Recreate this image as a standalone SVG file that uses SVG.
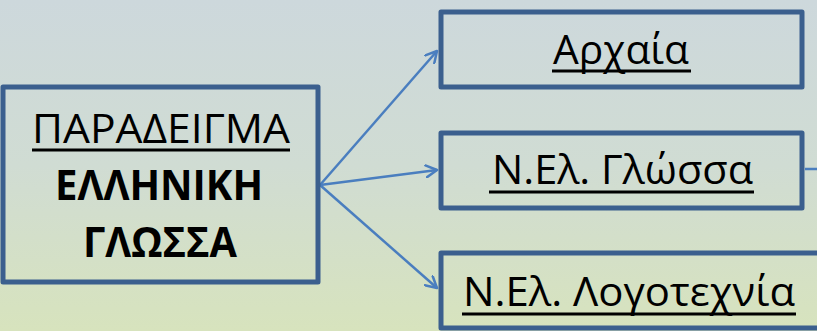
<svg xmlns="http://www.w3.org/2000/svg" width="817" height="331" viewBox="0 0 817 331">
<defs>
<linearGradient id="bg" x1="0" y1="0" x2="0" y2="1">
<stop offset="0" stop-color="#cdd8dc"/>
<stop offset="0.5" stop-color="#d0dcd3"/>
<stop offset="1" stop-color="#d7e3bd"/>
</linearGradient>
<marker id="arr" viewBox="0 0 14 14" refX="12" refY="7" markerWidth="14" markerHeight="14" markerUnits="userSpaceOnUse" orient="auto">
<path d="M1,1 L12,7 L1,13" fill="none" stroke="#4a7ebf" stroke-width="2.5" stroke-linecap="round" stroke-linejoin="round"/>
</marker>
<style>
.box{fill:none;stroke:#3b5f8e;stroke-width:5;stroke-linejoin:round}
.t{font-family:"Open Sans","DejaVu Sans",sans-serif;fill:#000;text-anchor:start}
.ul{stroke:#000;stroke-width:3}
.c{stroke:#4a7ebf;stroke-width:2.5;fill:none}
</style>
</defs>
<rect x="0" y="0" width="817" height="331" fill="url(#bg)"/>
<g id="connectors">
<line class="c" x1="320" y1="185" x2="437" y2="51" marker-end="url(#arr)"/>
<line class="c" x1="320" y1="185" x2="437" y2="170" marker-end="url(#arr)"/>
<line class="c" x1="320" y1="185" x2="437" y2="288" marker-end="url(#arr)"/>
<line class="c" x1="805" y1="169" x2="817" y2="169"/>
</g>
<g id="node-main">
<rect class="box" x="3" y="87" width="315" height="195"/>
<text class="t" x="32" y="143" font-size="40" textLength="258" lengthAdjust="spacingAndGlyphs">ΠΑΡΑΔΕΙΓΜΑ</text>
<line class="ul" x1="32" y1="150" x2="290" y2="150"/>
<text class="t" x="55" y="200" font-size="42" font-weight="bold" textLength="208" lengthAdjust="spacingAndGlyphs">ΕΛΛΗΝΙΚΗ</text>
<text class="t" x="83" y="257" font-size="42" font-weight="bold" textLength="154" lengthAdjust="spacingAndGlyphs">ΓΛΩΣΣΑ</text>
</g>
<g id="node-archaia">
<rect class="box" x="441" y="12" width="361" height="75"/>
<text class="t" x="553" y="64" font-size="40" textLength="136" lengthAdjust="spacingAndGlyphs">Αρχαία</text>
<line class="ul" x1="552" y1="71" x2="691" y2="71"/>
</g>
<g id="node-glossa">
<rect class="box" x="441" y="133" width="361" height="75"/>
<text class="t" x="492" y="184" font-size="40" textLength="261" lengthAdjust="spacingAndGlyphs">Ν.Ελ. Γλώσσα</text>
<line class="ul" x1="489" y1="192" x2="754" y2="192"/>
</g>
<g id="node-logotexnia">
<rect class="box" x="441" y="253" width="390" height="75"/>
<text class="t" x="463" y="306" font-size="40" textLength="332" lengthAdjust="spacingAndGlyphs">Ν.Ελ. Λογοτεχνία</text>
<line class="ul" x1="462" y1="314" x2="796" y2="314"/>
</g>
</svg>
